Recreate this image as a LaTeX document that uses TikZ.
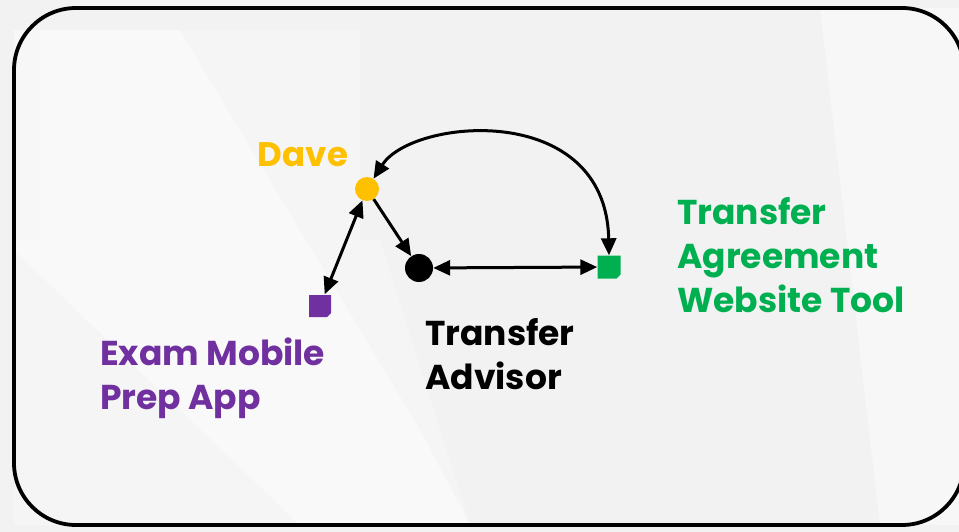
\documentclass[tikz,border=0pt]{standalone}
\usepackage{fontspec}
\setmainfont{Poppins}
\usetikzlibrary{arrows.meta}
\definecolor{bggray}{HTML}{F2F2F2}
\definecolor{dave}{HTML}{FFC000}
\definecolor{tgreen}{HTML}{00B050}
\definecolor{tpurple}{HTML}{7030A0}
\tikzset{
  lbl/.style={font=\fontsize{34.5}{44}\selectfont\bfseries, inner sep=0pt, align=left, anchor=north west},
  conn/.style={line width=3pt, {Triangle[length=17pt,width=15pt]}-{Triangle[length=17pt,width=15pt]}},
  conn1/.style={line width=3pt, -{Triangle[length=17pt,width=15pt]}},
  sq/.style={minimum size=23pt, inner sep=0pt, draw=none},
}
\begin{document}
\begin{tikzpicture}[x=1pt,y=-1pt]
\useasboundingbox (0,0) rectangle (959,532);
\fill[bggray] (0,0) rectangle (959,532);
% subtle lighter background shapes
\fill[white,opacity=0.3] (40,30) -- (360,30) -- (360,240) -- (40,240) -- cycle;
\fill[white,opacity=0.45] (180,30) -- (420,430) -- (470,525) -- (300,525) -- (14,250) -- (14,30) -- cycle;
\fill[white,opacity=0.45] (820,8) -- (959,8) -- (959,525) -- (880,525) -- cycle;
\fill[white,opacity=0.3] (14,240) -- (380,240) -- (470,525) -- (14,525) -- cycle;
% frame
\draw[line width=3.8pt, rounded corners=62pt] (14,8) rectangle (964,525);

% nodes
\node[circle, fill=dave, minimum size=24pt, inner sep=0pt] (dave) at (367,189) {};
\node[circle, fill=black, minimum size=28pt, inner sep=0pt] (adv) at (419,268) {};
\node[sq] (web) at (609,267) {};
\fill[tgreen] ([shift={(-11.5,-11.5)}]web.center) -- ++(23,0) -- ++(0,19) -- ++(-4,4) -- ++(-19,0) -- cycle;
\node[sq] (exam) at (320,306) {};
\fill[tpurple] ([shift={(-11,-11)}]exam.center) -- ++(22,0) -- ++(0,18) -- ++(-4,4) -- ++(-18,0) -- cycle;

% labels
\node[font=\fontsize{34}{44}\selectfont\bfseries, text=dave, inner sep=0pt] (davelbl) at (303,155) {Dave};
\node[lbl, text=tgreen] (weblbl) at (677,197) {Transfer\\Agreement\\Website Tool};
\node[lbl, text=tpurple] (examlbl) at (100,338) {Exam Mobile\\Prep App};
\node[lbl, text=black] (advlbl) at (425,318) {Transfer\\Advisor};

% connectors
\draw[conn1] (dave) -- (adv);
\draw[conn] (dave) -- (exam);
\draw[conn] (adv) -- (web);
\draw[conn] (web.north) .. controls (606,100) and (412,118) .. (dave);
\end{tikzpicture}
\end{document}
